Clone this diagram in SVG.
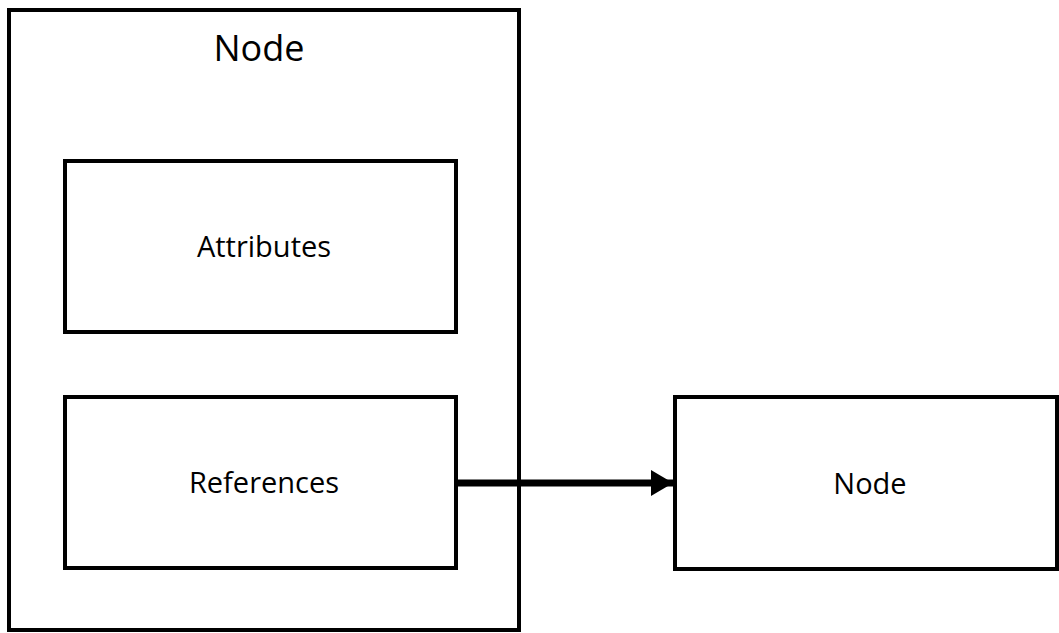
<svg xmlns="http://www.w3.org/2000/svg" width="1059" height="633" viewBox="0 0 1059 633">
  <style>
    .box { fill: #ffffff; stroke: #000000; stroke-width: 4; }
    .lbl { font-family: "Open Sans", "Noto Sans", sans-serif; font-size: 29px; fill: #000000; text-anchor: middle; }
    .title { font-size: 36px; }
    .conn { stroke: #000000; stroke-width: 7; fill: none; }
  </style>
  <defs>
    <marker id="arrow" markerUnits="userSpaceOnUse" markerWidth="24" markerHeight="28" refX="22" refY="13" orient="auto">
      <path d="M0,0 L22,13 L0,26 Z" fill="#000000"/>
    </marker>
  </defs>
  <rect x="0" y="0" width="1059" height="633" fill="#ffffff"/>
  <g id="node-outer">
    <rect class="box" x="9" y="10" width="510" height="620"/>
    <text class="lbl title" x="259" y="61">Node</text>
  </g>
  <g id="attributes">
    <rect class="box" x="65" y="161" width="391" height="171"/>
    <text class="lbl" x="264" y="257">Attributes</text>
  </g>
  <g id="references">
    <rect class="box" x="65" y="397" width="391" height="171"/>
    <text class="lbl" x="264" y="493">References</text>
  </g>
  <g id="node-target">
    <rect class="box" x="675" y="397" width="382" height="172"/>
    <text class="lbl" x="870" y="494">Node</text>
  </g>
  <g id="connectors">
    <line class="conn" x1="456" y1="483" x2="673" y2="483" marker-end="url(#arrow)"/>
  </g>
</svg>
